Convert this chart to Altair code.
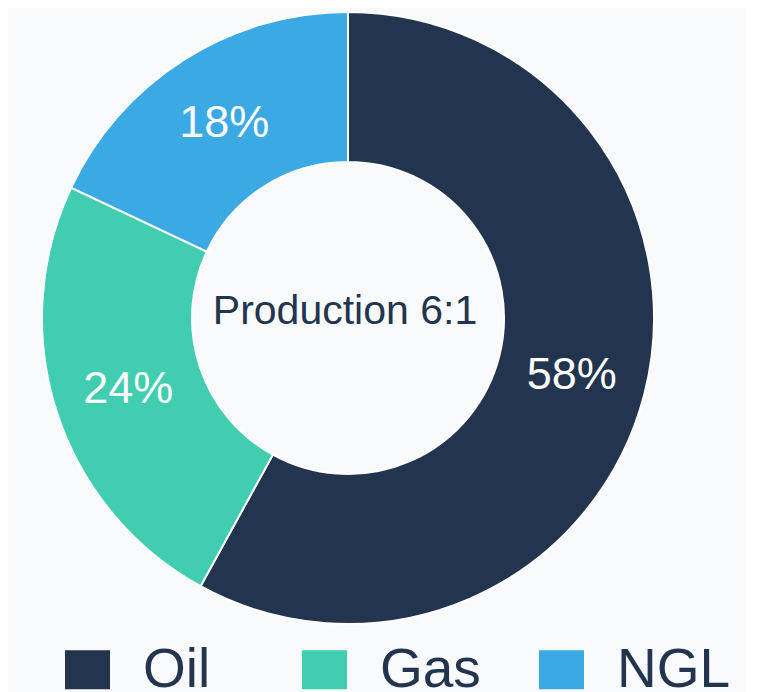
import altair as alt
import pandas as pd

categories = ["Oil", "Gas", "NGL"]
shares = [58, 24, 18]
labels = ["58%", "24%", "18%"]
colors = ["#23344f", "#41cdb0", "#3ba9e3"]
center_label = ["Production 6:1"]

df = pd.DataFrame({"cat": categories, "value": shares, "label": labels, "ord": [0, 1, 2]})
cdf = pd.DataFrame({"t": center_label})

FONT = "Liberation Sans"
W, H = 680, 620

color = alt.Color(
    "cat:N",
    scale=alt.Scale(domain=categories, range=colors),
    legend=alt.Legend(
        title=None,
        orient="none",
        direction="horizontal",
        legendX=52,
        legendY=634,
        symbolType="M-1,-0.867H1V0.867H-1Z",
        symbolSize=2025,
        symbolStrokeWidth=0,
        labelFont=FONT,
        labelFontSize=55,
        labelColor="#23344f",
        labelOffset=28,
        columnPadding=40,
        gridAlign="all",
    ),
)

base = alt.Chart(df).encode(
    theta=alt.Theta("value:Q", stack=True),
    order=alt.Order("ord:Q"),
)

arcs = base.mark_arc(innerRadius=156, outerRadius=306, stroke="white", strokeWidth=2).encode(color=color)

texts = base.mark_text(radius=231, font=FONT, fontSize=45, color="white").encode(text="label:N")

center = alt.Chart(cdf).mark_text(font=FONT, fontSize=41, color="#23344f", dy=-6, dx=-3).encode(text="t:N")

chart = (
    alt.layer(arcs, texts, center)
    .properties(
        width=W,
        height=H,
        background="#f8fafc",
        padding={"left": 0, "top": 0, "right": 15, "bottom": 0},
    )
    .configure_view(stroke=None)
)

chart.save("out.html", embed_options={"renderer": "svg", "actions": False})
